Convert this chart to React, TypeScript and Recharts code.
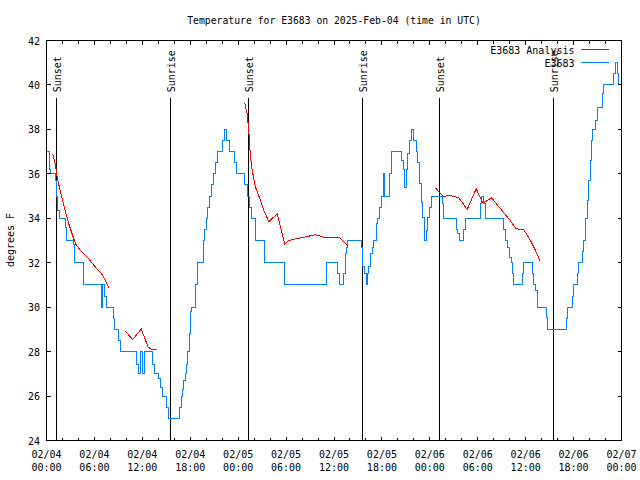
import React from 'react';
import { LineChart, Line, XAxis, YAxis, ReferenceLine, ReferenceArea } from 'recharts';

// hours after 2025-02-04 00:00 UTC, degrees F (observed = step series)
const observed: [number, number][] = [
  [0.1, 37], [0.4, 36.2], [0.55, 36], [1.09, 35.7], [1.21, 35.25], [1.29, 35], [1.42, 34.35], [1.63, 34],
  [2.38, 33.6], [2.5, 33], [3.34, 32.8], [3.46, 32], [4.67, 31], [6.85, 30], [7.02, 31], [7.3, 30.5],
  [7.47, 30], [8.35, 29.5], [8.47, 29], [9.06, 28.5], [9.27, 28],
  [11.31, 27.4], [11.5, 27], [11.8, 28], [12.0, 27], [12.25, 28], [13.31, 27.4], [13.5, 27], [14.07, 26.8],
  [14.3, 26.4], [14.48, 26], [15.03, 25.5], [15.32, 25], [16.61, 25.5], [16.86, 26], [17.0, 26.3], [17.2, 26.7],
  [17.4, 27], [17.55, 27.4], [17.66, 28], [17.85, 28.8], [18.03, 29.8], [18.2, 30], [18.62, 31], [18.9, 32],
  [19.62, 33], [19.83, 33.5], [19.99, 34], [20.2, 34.5], [20.41, 35], [20.66, 35.5], [20.87, 36], [21.16, 36.5],
  [21.37, 37], [22.08, 37.5], [22.29, 38], [22.54, 37.5], [22.87, 37], [23.58, 36.5], [23.79, 36], [24.83, 35.5],
  [25.13, 35], [25.42, 34.5], [25.63, 34], [26.17, 33], [27.3, 32], [29.84, 31], [35.06, 32],
  [36.48, 31.5], [36.69, 31], [37.23, 31.5], [37.44, 32.4], [37.57, 32.7], [37.73, 33], [39.4, 32.7], [39.61, 31.85],
  [39.82, 31.5], [40.03, 31], [40.15, 31.5], [40.36, 31.85], [40.57, 32.4], [40.78, 32.7], [40.99, 33], [41.28, 33.75],
  [41.49, 34], [41.74, 34.5], [41.91, 35], [42.16, 36], [42.37, 35], [42.99, 36], [43.2, 37], [44.45, 36.6],
  [44.66, 36.2], [44.83, 35.4], [45.08, 36.2], [45.25, 36.9], [45.45, 37.5], [45.66, 38], [45.99, 37.5], [46.28, 37],
  [46.49, 36.5], [46.7, 35.55], [46.91, 34.7], [47.12, 34.05], [47.33, 33], [47.54, 33.45], [47.75, 34.05], [47.96, 34.5],
  [48.21, 35], [49.55, 34.65], [49.75, 34],
  [51.3, 33.5], [51.51, 33.3], [51.72, 33], [52.26, 33.5], [52.42, 34], [54.35, 34.68], [54.47, 35], [54.76, 34.68],
  [54.97, 34], [57.27, 33.5], [57.48, 33], [57.77, 32.7], [57.98, 32.25], [58.19, 32], [58.35, 31.5], [58.52, 31],
  [59.56, 31.5], [59.77, 32], [60.82, 31.5], [61.02, 31], [61.23, 30.75], [61.44, 30], [62.57, 29.55], [62.7, 29],
  [65.07, 29.5], [65.28, 30], [65.82, 30.5], [66.03, 31], [66.45, 31.5], [66.66, 32], [67.08, 32.5], [67.28, 33],
  [67.49, 34], [67.7, 34.8], [67.91, 35.7], [68.12, 36.6], [68.24, 37.5], [68.33, 38], [68.75, 38.4], [68.95, 39],
  [69.58, 39.6], [69.79, 40], [71.04, 40.5], [71.25, 41], [71.46, 40.5], [71.66, 40], [71.88, 40],
];

// analysis runs, each one drawn as its own piece
const analysisNight1: [number, number][] = [
  [0.79, 36.9], [1.09, 36.45], [1.34, 35.85], [1.75, 35.17], [2.17, 34.57], [2.79, 33.75],
  [3.63, 32.85], [4.26, 32.55], [5.1, 32.25], [6.14, 31.8], [6.97, 31.47], [7.8, 30.87],
];
const analysisMorning1: [number, number][] = [
  [9.8, 28.95], [10.8, 28.54], [11.86, 29.02], [12.73, 28.2], [13.24, 28.09], [13.86, 28.09],
];
const analysisDay2: [number, number][] = [
  [24.83, 39.18], [25.13, 38.7], [25.33, 37.95], [25.54, 36.75], [25.76, 36.15], [26.17, 35.4],
  [26.8, 34.8], [27.21, 34.35], [27.84, 33.85], [28.89, 34.2], [29.51, 33.3], [29.84, 32.82],
  [30.34, 33.0], [31.18, 33.07], [32.64, 33.18], [33.68, 33.26], [34.72, 33.15], [36.69, 33.12],
  [36.94, 33.05], [37.57, 32.82],
];
const analysisDay3: [number, number][] = [
  [48.71, 35.37], [49.46, 35.06], [49.75, 34.98], [50.3, 35.02], [50.8, 35.0], [51.63, 34.92],
  [52.68, 34.4], [53.81, 35.33], [54.56, 34.73], [54.76, 34.7], [55.72, 34.92], [56.85, 34.43],
  [57.89, 33.98], [58.82, 33.53], [59.77, 33.48], [60.61, 33.0], [61.23, 32.55], [61.77, 32.1],
];

const sunHours = [1.25, 15.5, 25.32, 39.54, 49.19, 63.46];
const sunNames = ['Sunset', 'Sunrise', 'Sunset', 'Sunrise', 'Sunset', 'Sunrise'];
const SUN_TOP = 39.4;

const xTicks = [0, 2, 4, 6, 8, 10, 12, 14, 16, 18, 20, 22, 24, 26, 28, 30, 32, 34, 36,
  38, 40, 42, 44, 46, 48, 50, 52, 54, 56, 58, 60, 62, 64, 66, 68, 70, 72];
const yTicks = [24, 26, 28, 30, 32, 34, 36, 38, 40, 42];

const FONT = '"DejaVu Sans Mono", monospace';
const RED = '#ff0000';
const BLUE = '#0080ff';

// plot box (half pixels so 1px lines stay sharp)
const TOP = 40.5;
const BOTTOM = 440.5;
const LEFT = 46.5;
const RIGHT = 621.5;

const toRows = (pts: [number, number][]) => pts.map(([h, t]) => ({ h, t }));

function XTick(props: any) {
  const { x, payload } = props;
  const h = payload.value as number;
  const major = h % 6 === 0;
  const len = major ? 4 : 3;
  const day = `02/0${4 + Math.floor(h / 24)}`;
  const time = `${String(h % 24).padStart(2, '0')}:00`;
  return (
    <g>
      <line x1={x} x2={x} y1={BOTTOM} y2={BOTTOM - len} stroke="#000" />
      <line x1={x} x2={x} y1={TOP} y2={TOP + len} stroke="#000" />
      {major && (
        <text textAnchor="middle" fontFamily={FONT} fontSize={10} fill="#000">
          <tspan x={x} y={458}>{day}</tspan>
          <tspan x={x} y={470.5}>{time}</tspan>
        </text>
      )}
    </g>
  );
}

function YTick(props: any) {
  const { y, payload } = props;
  return (
    <g>
      <line x1={LEFT} x2={LEFT + 4} y1={y} y2={y} stroke="#000" />
      <line x1={RIGHT} x2={RIGHT - 4} y1={y} y2={y} stroke="#000" />
      <text x={40} y={y + 4} textAnchor="end" fontFamily={FONT} fontSize={10} fill="#000">
        {payload.value}
      </text>
    </g>
  );
}

const sunLabel = (text: string) => (props: any) => {
  const vb = props.viewBox || {};
  return (
    <text
      transform={`translate(${vb.x + 4.5}, ${vb.y - 6}) rotate(-90)`}
      fontFamily={FONT}
      fontSize={10}
      fill="#000"
    >
      {text}
    </text>
  );
};

export default function App() {
  const pieces = [analysisNight1, analysisMorning1, analysisDay2, analysisDay3];
  return (
    <div style={{ position: 'absolute', left: 0, top: 0, width: 640, height: 480, background: '#fff' }}>
      <style>{`.recharts-wrapper line, .recharts-wrapper path { shape-rendering: crispEdges; }`}</style>
      <LineChart width={640} height={480} margin={{ top: TOP, right: 640 - RIGHT, bottom: 0, left: 0 }}>
        <XAxis
          dataKey="h"
          type="number"
          domain={[0, 72]}
          ticks={xTicks}
          interval={0}
          height={480 - BOTTOM}
          axisLine={false}
          tickLine={false}
          tick={<XTick />}
          allowDataOverflow
        />
        <YAxis
          type="number"
          domain={[24, 42]}
          ticks={yTicks}
          interval={0}
          width={LEFT}
          axisLine={false}
          tickLine={false}
          tick={<YTick />}
          allowDataOverflow
        />
        <ReferenceArea x1={0} x2={72} y1={24} y2={42} fill="none" stroke="#000" strokeWidth={1} />
        {sunHours.map((h, i) => (
          <ReferenceLine
            key={i}
            segment={[{ x: h, y: SUN_TOP }, { x: h, y: 24 }]}
            stroke="#000"
            strokeWidth={1}
            label={sunLabel(sunNames[i])}
          />
        ))}
        <Line
          data={toRows(observed)}
          dataKey="t"
          type="stepAfter"
          stroke={BLUE}
          strokeWidth={1}
          dot={false}
          isAnimationActive={false}
        />
        {pieces.map((p, i) => (
          <Line
            key={i}
            data={toRows(p)}
            dataKey="t"
            type="linear"
            stroke={RED}
            strokeWidth={1}
            dot={false}
            isAnimationActive={false}
          />
        ))}
      </LineChart>
      <svg
        width={640}
        height={480}
        style={{ position: 'absolute', left: 0, top: 0, pointerEvents: 'none' }}
        fontFamily={FONT}
        fill="#000"
      >
        <text x={(LEFT + RIGHT) / 2} y={24} textAnchor="middle" fontSize={9.75}>
          Temperature for E3683 on 2025-Feb-04 (time in UTC)
        </text>
        <text transform="translate(13.5, 240) rotate(-90)" textAnchor="middle" fontSize={10}>
          degrees F
        </text>
        <text x={574.5} y={54} textAnchor="end" fontSize={10}>E3683 Analysis</text>
        <line x1={581} x2={609} y1={49.5} y2={49.5} stroke={RED} shapeRendering="crispEdges" />
        <text x={574.5} y={66.5} textAnchor="end" fontSize={10}>E3683</text>
        <line x1={581} x2={609} y1={62.5} y2={62.5} stroke={BLUE} shapeRendering="crispEdges" />
      </svg>
    </div>
  );
}
